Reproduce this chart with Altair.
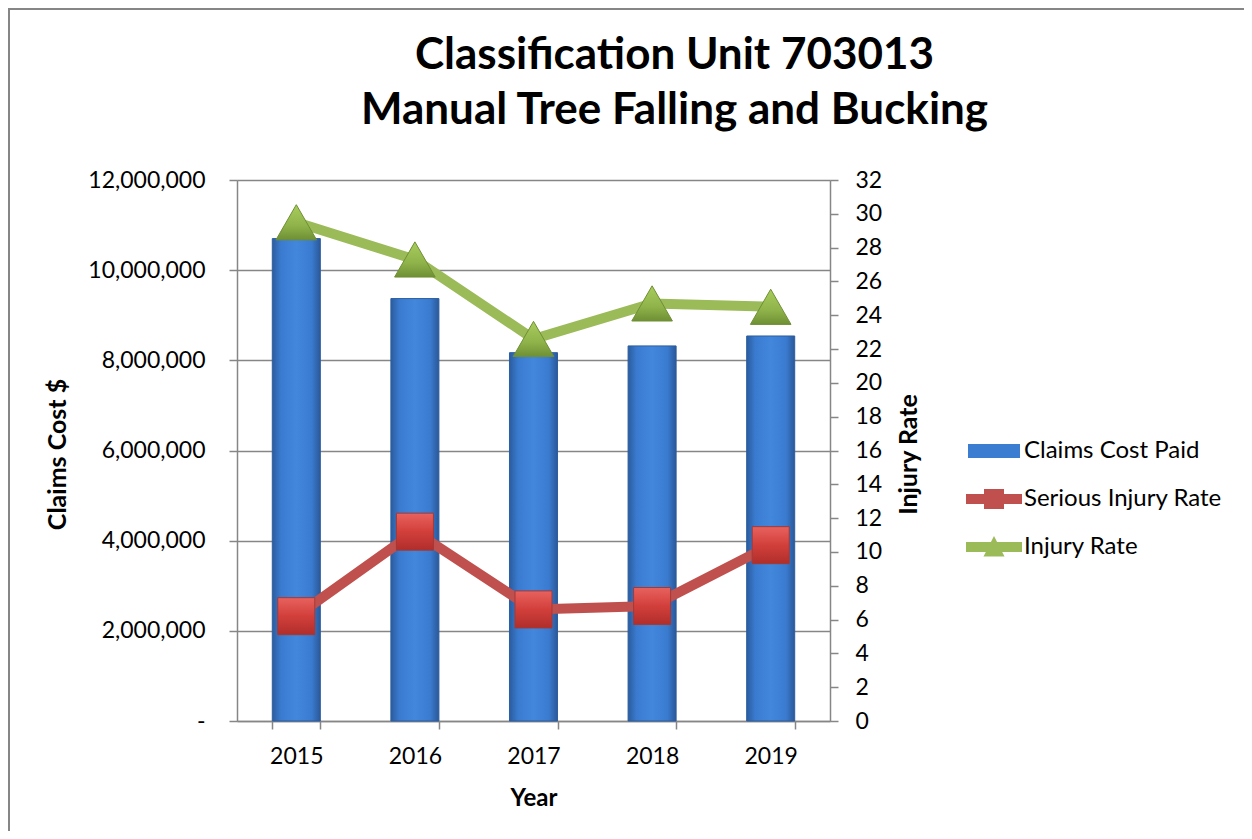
import altair as alt
import pandas as pd

# ---- data ----
years = ["2015", "2016", "2017", "2018", "2019"]
claims_cost = [10700000, 9370000, 8170000, 8320000, 8540000]
serious_rate = [6.2, 11.2, 6.6, 6.8, 10.4]
injury_rate = [29.5, 27.3, 22.6, 24.7, 24.5]
series_names = ["Claims Cost Paid", "Serious Injury Rate", "Injury Rate"]
left_ticks = [0, 2000000, 4000000, 6000000, 8000000, 10000000, 12000000]
right_ticks = [0, 2, 4, 6, 8, 10, 12, 14, 16, 18, 20, 22, 24, 26, 28, 30, 32]
title_lines = ["Classification Unit 703013", "Manual Tree Falling and Bucking"]

# ---- tables ----
bars_df = pd.DataFrame({"year": years, "claims": claims_cost})
rates_df = pd.DataFrame({
    "year": years + years,
    "series": [series_names[1]] * len(years) + [series_names[2]] * len(years),
    "rate": serious_rate + injury_rate,
})
legend_df = pd.DataFrame({"series": series_names})

FONT = "Lato"
GRAY = "#868686"
BLUE = "#3b7dd0"
RED = "#c0504d"
GREEN = "#9bbb59"

W, H = 593, 541

x_enc = alt.X(
    "year:N", sort=years,
    scale=alt.Scale(paddingInner=0.595, paddingOuter=0.2975),
    axis=alt.Axis(
        title="Year", tickBand="extent", labelAngle=0,
        labelFont=FONT, labelFontSize=23, labelColor="black", labelPadding=16,
        titleFont=FONT, titleFontSize=24, titleFontWeight="bold", titleColor="black",
        titleBaseline="alphabetic", titleY=84,
        domainColor=GRAY, domainWidth=1.5, tickColor=GRAY, tickWidth=1.5, tickSize=8,
        grid=False,
    ),
)

bar_grad = alt.LinearGradient(
    gradient="linear", x1=0, x2=1, y1=0, y2=0,
    stops=[
        alt.GradientStop(color="#2b5c9e", offset=0),
        alt.GradientStop(color="#3a7bd0", offset=0.18),
        alt.GradientStop(color="#4287dc", offset=0.5),
        alt.GradientStop(color="#3a7bd0", offset=0.82),
        alt.GradientStop(color="#2a5898", offset=1),
    ],
)

bars = alt.Chart(bars_df).mark_bar(color=bar_grad, stroke="#2c5d9f", strokeWidth=1).encode(
    x=x_enc,
    y=alt.Y(
        "claims:Q",
        scale=alt.Scale(domain=[0, 12000000], nice=False, zero=True),
        axis=alt.Axis(
            orient="left", values=left_ticks, title="Claims Cost $",
            labelExpr="datum.value == 0 ? '-\u00a0\u00a0\u00a0' : format(datum.value, ',')",
            labelFont=FONT, labelFontSize=23, labelColor="black", labelPadding=24,
            titleFont=FONT, titleFontSize=25, titleFontWeight="bold", titleColor="black",
            titleAngle=270, titleBaseline="alphabetic", titleX=-172, titleY=274,
            domainColor=GRAY, domainWidth=1.5, tickColor=GRAY, tickWidth=1.5, tickSize=8,
            grid=True, gridColor=GRAY, gridWidth=1.5,
        ),
    ),
)

y_rate = alt.Y(
    "rate:Q",
    scale=alt.Scale(domain=[0, 32], nice=False),
    axis=alt.Axis(
        orient="right", values=right_ticks, title="Injury Rate",
        labelFont=FONT, labelFontSize=23, labelColor="black", labelPadding=17,
        titleFont=FONT, titleFontSize=25, titleFontWeight="bold", titleColor="black",
        titleAngle=270, titleBaseline="alphabetic", titleX=86, titleY=274,
        domainColor=GRAY, domainWidth=1.5, tickColor=GRAY, tickWidth=1.5, tickSize=8,
        grid=False,
    ),
)

rates_base = alt.Chart(rates_df).encode(x=x_enc, y=y_rate)

red_grad = alt.LinearGradient(
    gradient="linear", x1=0, x2=0, y1=0, y2=1,
    stops=[alt.GradientStop(color="#e8625e", offset=0),
           alt.GradientStop(color="#d23f3b", offset=0.5),
           alt.GradientStop(color="#b02e2b", offset=1)],
)
green_grad = alt.LinearGradient(
    gradient="linear", x1=0, x2=0, y1=0, y2=1,
    stops=[alt.GradientStop(color="#a8cc5c", offset=0),
           alt.GradientStop(color="#8fb34a", offset=0.6),
           alt.GradientStop(color="#6f8f34", offset=1)],
)

serious_line = rates_base.transform_filter(alt.datum.series == series_names[1]).mark_line(
    color=RED, strokeWidth=10)
injury_line = rates_base.transform_filter(alt.datum.series == series_names[2]).mark_line(
    color=GREEN, strokeWidth=10)
serious_pts = rates_base.transform_filter(alt.datum.series == series_names[1]).mark_point(
    shape="square", filled=True, size=1370, fill=red_grad, stroke="#a33936", strokeWidth=1, opacity=1)
injury_pts = rates_base.transform_filter(alt.datum.series == series_names[2]).mark_point(
    shape="triangle-up", filled=True, size=1650, fill=green_grad, stroke="#6f8f34", strokeWidth=1, opacity=1)

rates = alt.layer(serious_line, injury_line, serious_pts, injury_pts)

legend_paths = [
    "M-2.6,-0.7H2.6V0.7H-2.6Z",
    "M-2.8,-0.5H2.8V0.5H-2.8Z M-1,-1H1V1H-1Z",
    "M-2.8,-0.5H2.8V0.5H-2.8Z M0,-1.1L1.05,0.95H-1.05Z",
]
leg = alt.Legend(
    title=None, orient="none", legendX=745, legendY=259,
    symbolSize=400, symbolStrokeWidth=0, symbolOpacity=1,
    labelFont=FONT, labelFontSize=24, labelColor="black", labelOffset=18,
    rowPadding=24, labelLimit=400,
)
legend_layer = alt.Chart(legend_df).mark_point(filled=True, opacity=0).encode(
    color=alt.Color("series:N", scale=alt.Scale(domain=series_names, range=[BLUE, RED, GREEN]), legend=leg),
    shape=alt.Shape("series:N", scale=alt.Scale(domain=series_names, range=legend_paths), legend=leg),
)

frame = alt.Chart(pd.DataFrame({"k": [0]})).mark_rect(
    fillOpacity=0, stroke=GRAY, strokeWidth=2, clip=False
).encode(x=alt.value(-228), x2=alt.value(1400), y=alt.value(-171), y2=alt.value(1000))

chart = alt.layer(frame, bars, rates, legend_layer).resolve_scale(
    y="independent"
).properties(
    width=W, height=H,
    autosize=alt.AutoSizeParams(type="none"),
    padding={"left": 229, "top": 172, "right": 414, "bottom": 110},
    title=alt.TitleParams(
        text=title_lines, font=FONT, fontSize=44, fontWeight="bold", color="black",
        anchor="middle", frame="group", dx=141, offset=0, dy=125, baseline="top",
        lineHeight=55,
    ),
).configure_view(stroke=None).configure(background="white")

chart.save("out.html", embed_options={"renderer": "svg", "actions": False})
